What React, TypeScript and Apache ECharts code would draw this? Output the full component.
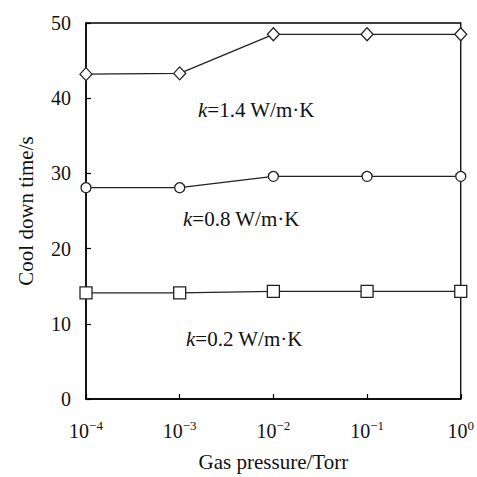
import React, { useEffect, useRef } from "react";
import * as echarts from "echarts";

const pressures = [1e-4, 1e-3, 1e-2, 1e-1, 1];
const k14 = [43.2, 43.3, 48.5, 48.5, 48.5];
const k08 = [28.1, 28.1, 29.6, 29.6, 29.6];
const k02 = [14.1, 14.1, 14.3, 14.3, 14.3];
const seriesNames = ["k=1.4 W/m·K", "k=0.8 W/m·K", "k=0.2 W/m·K"];
const yTicks = [0, 10, 20, 30, 40, 50];

const FONT = "Liberation Serif";

export default function App() {
  const ref = useRef<HTMLDivElement>(null);
  useEffect(() => {
    const chart = echarts.init(ref.current!, null, { renderer: "svg" });
    const mk = (vals: number[]) => pressures.map((p, i) => [p, vals[i]]);
    const lineStyle = { color: "#222", width: 1.3 };
    const itemStyle = { color: "#fff", borderColor: "#222", borderWidth: 1.3 };
    const labelText = (kval: string, x: number, y: number) => ({
      type: "text",
      left: x,
      top: y,
      style: {
        text: `{i|k}{n|=${kval} W/m·K}`,
        rich: {
          i: { fontFamily: FONT, fontStyle: "italic", fontSize: 21, fill: "#111" },
          n: { fontFamily: FONT, fontSize: 21, fill: "#111" },
        },
      },
    });
    chart.setOption({
      animation: false,
      backgroundColor: "#fff",
      grid: {
        left: 86,
        right: 15,
        top: 23,
        bottom: 75,
        show: true,
        borderColor: "#000",
        borderWidth: 1.3,
      },
      xAxis: {
        type: "log",
        logBase: 10,
        min: 1e-4,
        max: 1,
        name: "Gas pressure/Torr",
        nameLocation: "middle",
        nameGap: 52,
        nameTextStyle: { fontFamily: FONT, fontSize: 21, color: "#111" },
        axisLine: { lineStyle: { color: "#000", width: 1.5 } },
        axisTick: { inside: true, length: 5, lineStyle: { color: "#000", width: 1.2 } },
        splitLine: { show: false },
        minorTick: { show: false },
        axisLabel: {
          margin: 20,
          formatter: (v: number) => {
            const e = Math.round(Math.log10(v));
            return `{b|10}{s|${e < 0 ? "−" + -e : e}}`;
          },
          rich: {
            b: { fontFamily: FONT, fontSize: 20, color: "#111", verticalAlign: "bottom" },
            s: { fontFamily: FONT, fontSize: 13, color: "#111", verticalAlign: "top", padding: [0, 0, 9, 0] },
          },
        },
      },
      yAxis: {
        type: "value",
        min: yTicks[0],
        max: yTicks[yTicks.length - 1],
        interval: 10,
        name: "Cool down time/s",
        nameLocation: "middle",
        nameGap: 50,
        nameTextStyle: { fontFamily: FONT, fontSize: 21, color: "#111" },
        axisLine: { show: true, lineStyle: { color: "#000", width: 1.5 } },
        axisTick: { show: true, inside: true, length: 5, lineStyle: { color: "#000", width: 1.2 } },
        splitLine: { show: false },
        axisLabel: { margin: 15, fontFamily: FONT, fontSize: 20, color: "#111" },
      },
      series: [
        { name: seriesNames[0], type: "line", data: mk(k14), symbol: "diamond", symbolSize: [12, 13], lineStyle, itemStyle },
        { name: seriesNames[1], type: "line", data: mk(k08), symbol: "circle", symbolSize: 10, lineStyle, itemStyle },
        { name: seriesNames[2], type: "line", data: mk(k02), symbol: "rect", symbolSize: 12, lineStyle, itemStyle },
      ],
      graphic: [
        labelText("1.4", 198, 99),
        labelText("0.8", 183, 208),
        labelText("0.2", 186, 328),
      ],
    });
    return () => chart.dispose();
  }, []);
  return (
    <div
      ref={ref}
      style={{ position: "fixed", left: 0, top: 0, width: 477, height: 477, background: "#fff" }}
    />
  );
}
